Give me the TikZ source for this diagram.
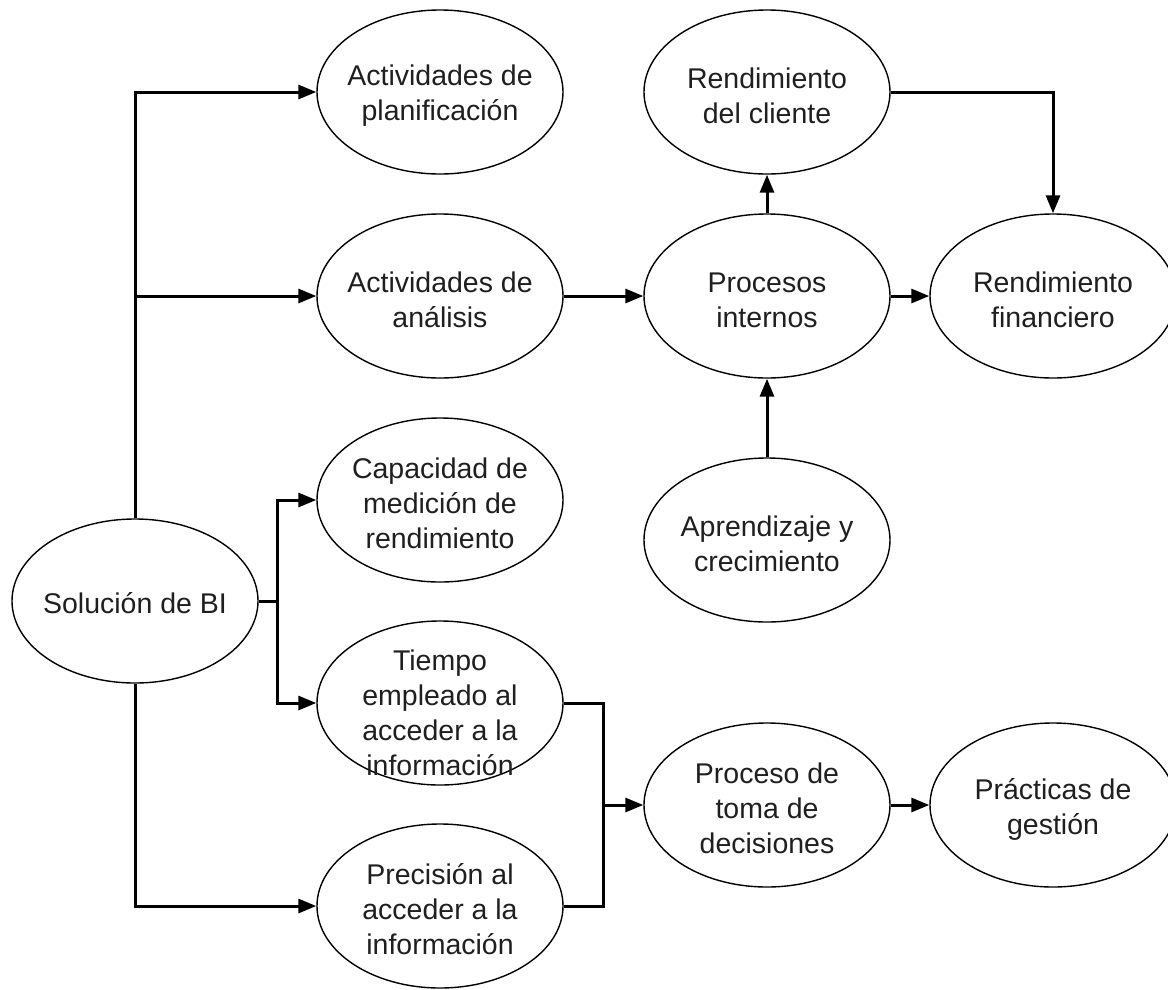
\documentclass[tikz,border=0pt]{standalone}
\usepackage{fontspec}
\setmainfont{Liberation Sans}
\usetikzlibrary{arrows.meta,shapes.geometric}
\begin{document}
\begin{tikzpicture}[x=1pt,y=-1pt,
  oval/.style={draw=black, line width=1.4pt, ellipse, minimum width=246pt, minimum height=164pt,
    inner sep=0pt},
  lbl/.style={inner sep=0pt, align=center, text=black!88,
    font=\fontsize{28.5pt}{35pt}\selectfont},
  link/.style={line width=3pt, draw=black},
  arr/.style={link, -{Triangle[length=18pt,width=14pt]}}]
\useasboundingbox (0,0) rectangle (1168,989);

% ellipses
\node[oval] (sol)  at (135,601)  {};
\node[oval] (plan) at (440,92)   {};
\node[oval] (ana)  at (440,296)  {};
\node[oval] (cap)  at (440,500)  {};
\node[oval] (tiem) at (440,703)  {};
\node[oval] (prec) at (440,906)  {};
\node[oval] (cli)  at (767,92)   {};
\node[oval] (proc) at (767,296)  {};
\node[oval] (apr)  at (767,540)  {};
\node[oval] (toma) at (767,805)  {};
\node[oval] (fin)  at (1053,296) {};
\node[oval] (prac) at (1053,805) {};

% labels, set a little below each centre
\node[lbl] (solT)  at ([yshift=-2pt]sol)   {Solución de BI};
\node[lbl] (planT) at ([yshift=-4pt]plan)  {Actividades de\\planificación};
\node[lbl] (anaT)  at ([yshift=-4pt]ana)   {Actividades de\\análisis};
\node[lbl] (capT)  at ([yshift=-3pt]cap)   {Capacidad de\\medición de\\rendimiento};
\node[lbl] (tiemT) at ([yshift=-10pt]tiem) {Tiempo\\empleado al\\acceder a la\\información};
\node[lbl] (precT) at ([yshift=-3pt]prec)  {Precisión al\\acceder a la\\información};
\node[lbl] (cliT)  at ([yshift=-4pt]cli)   {Rendimiento\\del cliente};
\node[lbl] (procT) at ([yshift=-4pt]proc)  {Procesos\\internos};
\node[lbl] (aprT)  at ([yshift=-4pt]apr)   {Aprendizaje y\\crecimiento};
\node[lbl] (tomaT) at ([yshift=-3pt]toma)  {Proceso de\\toma de\\decisiones};
\node[lbl] (finT)  at ([yshift=-4pt]fin)   {Rendimiento\\financiero};
\node[lbl] (pracT) at ([yshift=-4pt]prac)  {Prácticas de\\gestión};

% junction points
\coordinate (jR) at (277,601);
\coordinate (jM) at (603,805);

% connectors from the BI solution
\draw[arr] (sol.north) |- (plan.west);
\draw[arr] (sol.north) |- (ana.west);
\draw[arr] (sol.south) |- (prec.west);
\draw[link] (sol.east) -- (jR);
\draw[arr] (jR) |- (cap.west);
\draw[arr] (jR) |- (tiem.west);

% upper chain
\draw[arr] (ana.east) -- (proc.west);
\draw[arr] (proc.east) -- (fin.west);
\draw[arr] (proc.north) -- (cli.south);
\draw[arr] (apr.north) -- (proc.south);
\draw[arr] (cli.east) -| (fin.north);

% lower chain
\draw[link] (tiem.east) -| (jM);
\draw[link] (prec.east) -| (jM);
\draw[arr] (jM) -- (toma.west);
\draw[arr] (toma.east) -- (prac.west);
\end{tikzpicture}
\end{document}
